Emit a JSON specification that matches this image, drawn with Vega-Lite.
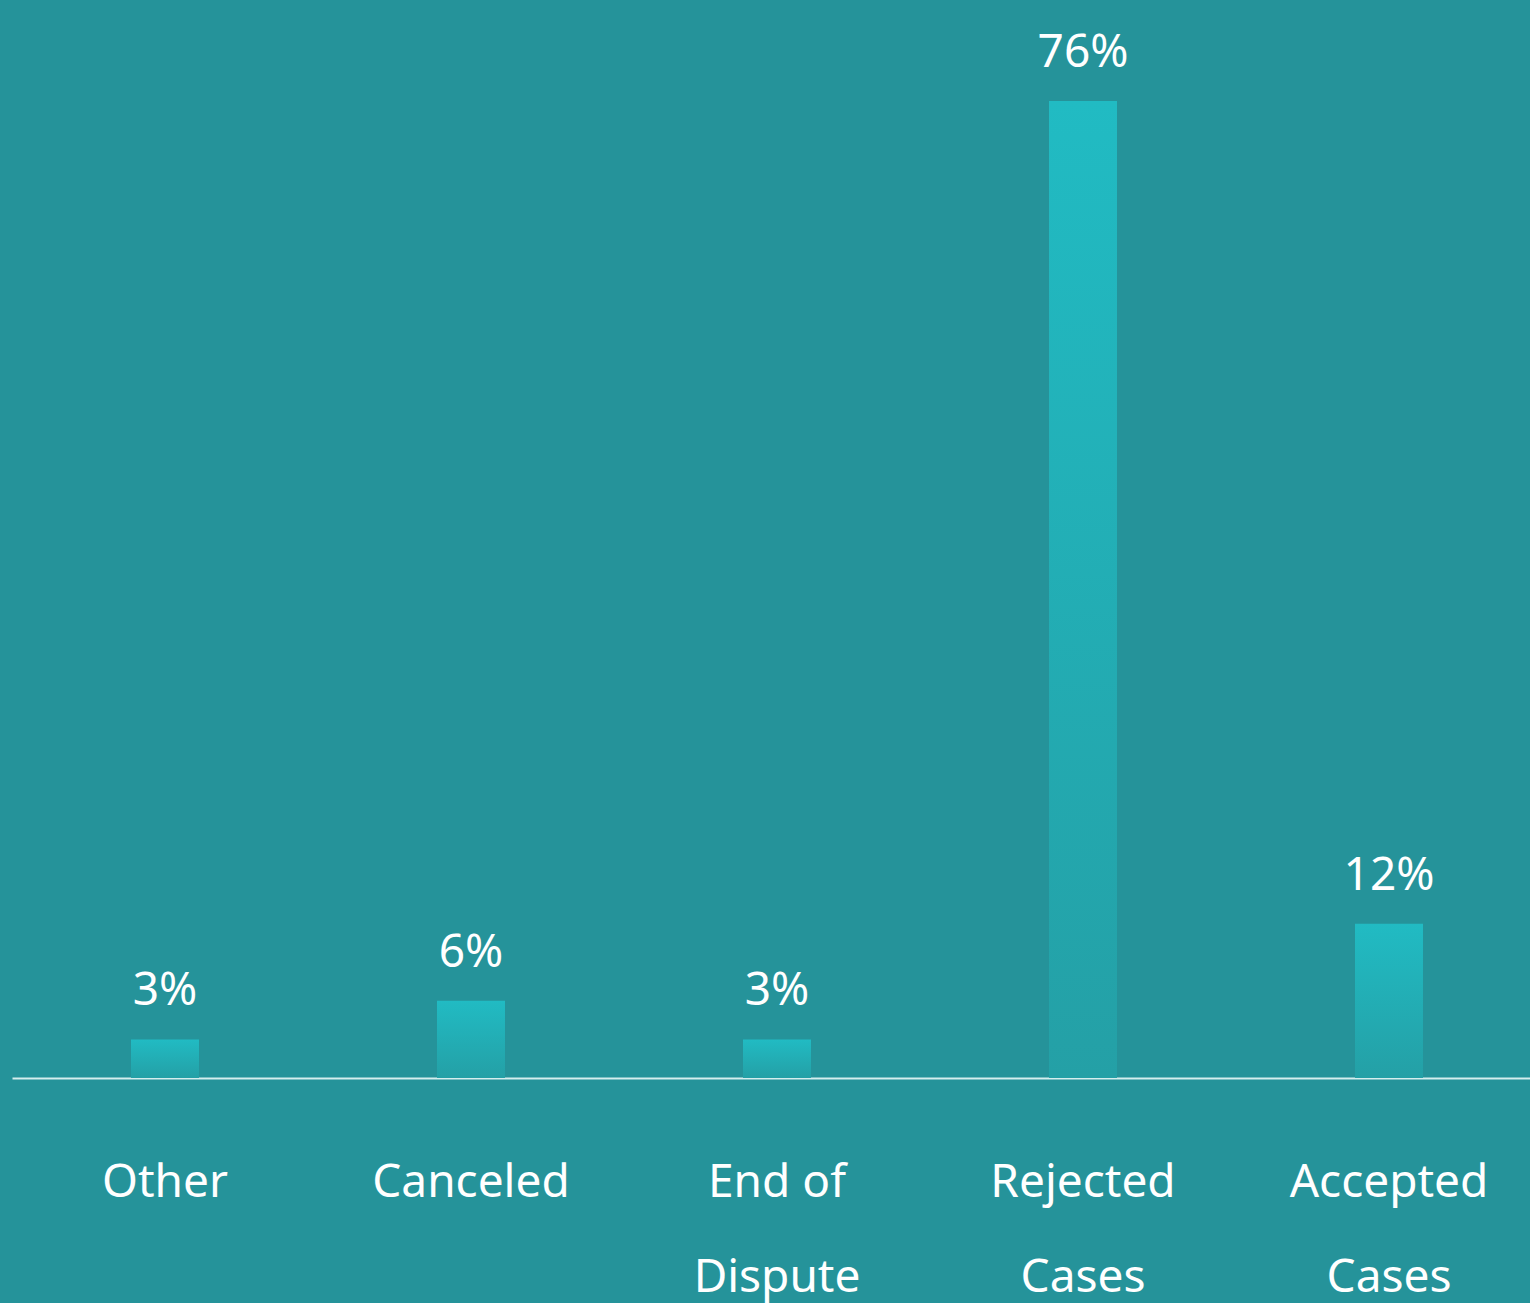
{
  "$schema": "https://vega.github.io/schema/vega-lite/v6.json",
  "width": 1530,
  "height": 977,
  "autosize": {"type": "none"},
  "padding": {"left": 12, "top": 101, "right": 0, "bottom": 225},
  "background": "#25939a",
  "data": {
    "values": [
      {"category": "Other", "value": 3, "label": "3%"},
      {"category": "Canceled", "value": 6, "label": "6%"},
      {"category": "End of Dispute", "value": 3, "label": "3%"},
      {"category": "Rejected Cases", "value": 76, "label": "76%"},
      {"category": "Accepted Cases", "value": 12, "label": "12%"}
    ]
  },
  "encoding": {
    "x": {
      "field": "category",
      "type": "nominal",
      "sort": null,
      "scale": {"paddingInner": 0, "paddingOuter": 0},
      "axis": {
        "title": null,
        "ticks": false,
        "tickSize": 0,
        "grid": false,
        "domainColor": "#d6eeee",
        "domainWidth": 2,
        "labelAngle": 0,
        "labelFont": "Noto Sans",
        "labelFontSize": 46,
        "labelColor": "#ffffff",
        "labelPadding": 82,
        "labelLimit": 0,
        "labelBaseline": "top",
        "labelLineHeight": 95,
        "labelExpr": "datum.value == 'End of Dispute' ? ['End of', 'Dispute'] : datum.value == 'Rejected Cases' ? ['Rejected', 'Cases'] : datum.value == 'Accepted Cases' ? ['Accepted', 'Cases'] : datum.value"
      }
    },
    "y": {
      "field": "value",
      "type": "quantitative",
      "scale": {"domain": [0, 76], "nice": false, "zero": true},
      "axis": null
    }
  },
  "layer": [
    {
      "mark": {
        "type": "bar",
        "size": 68,
        "color": {
          "gradient": "linear",
          "x1": 0, "y1": 0, "x2": 0, "y2": 1,
          "stops": [
            {"offset": 0, "color": "#21bbc3"},
            {"offset": 1, "color": "#24a0a6"}
          ]
        }
      }
    },
    {
      "mark": {
        "type": "text",
        "font": "Noto Sans",
        "fontSize": 46,
        "color": "#ffffff",
        "baseline": "alphabetic",
        "align": "center",
        "dy": -34
      },
      "encoding": {
        "text": {"field": "label", "type": "nominal"}
      }
    }
  ],
  "config": {"view": {"stroke": null}}
}
